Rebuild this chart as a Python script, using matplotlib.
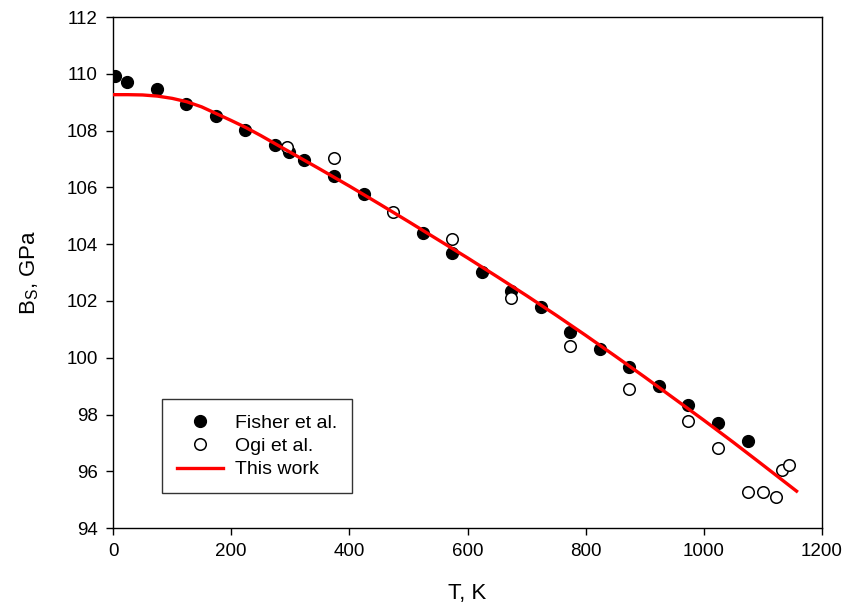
import numpy as np
import matplotlib
matplotlib.use('Agg')
import matplotlib.pyplot as plt

plt.rcParams['font.family'] = ['Liberation Sans', 'DejaVu Sans']
plt.rcParams['mathtext.default'] = 'regular'

# Fisher et al. (filled)
fisher_T = [4, 24, 74, 124, 174, 224, 274, 298, 324, 374, 424, 524, 574, 624,
            674, 724, 774, 824, 874, 924, 974, 1024, 1074]
fisher_B = [109.93, 109.70, 109.46, 108.93, 108.51, 108.02, 107.50, 107.25, 106.96,
            106.39, 105.77, 104.38, 103.68, 103.01, 102.34, 101.80, 100.92, 100.31,
            99.68, 99.01, 98.35, 97.69, 97.07]

# Ogi et al. (open)
ogi_T = [295, 374, 474, 574, 674, 774, 874, 974, 1024, 1074, 1100, 1122, 1132, 1145]
ogi_B = [107.43, 107.04, 105.12, 104.20, 102.11, 100.41, 98.89, 97.76, 96.81,
         95.28, 95.28, 95.10, 96.04, 96.22]

# this work (curve)
fit_T = [0, 25, 50, 75, 100, 125, 150, 175, 200, 225, 250, 300, 350, 400, 450, 500,
         550, 600, 650, 700, 750, 800, 850, 900, 950, 1000, 1050, 1100, 1157]
fit_B = [109.27, 109.27, 109.26, 109.22, 109.14, 109.02, 108.84, 108.60, 108.36,
         108.11, 107.83, 107.24, 106.65, 106.05, 105.43, 104.80, 104.16, 103.52,
         102.86, 102.19, 101.50, 100.79, 100.06, 99.32, 98.56, 97.80, 97.02, 96.22, 95.30]

fig = plt.figure(figsize=(8.48, 6.14), dpi=100)
ax = fig.add_axes([0.1333, 0.140, 0.836, 0.832])

ax.plot(fisher_T, fisher_B, 'o', color='black', markersize=8.5, label='Fisher et al.', zorder=2)
ax.plot(ogi_T, ogi_B, 'o', markerfacecolor='white', markeredgecolor='black',
        markeredgewidth=1.1, markersize=8.3, label='Ogi et al.', zorder=3)
ax.plot(fit_T, fit_B, '-', color='#ff0000', linewidth=2.4, label='This work', zorder=4)

ax.set_xlim(0, 1200)
ax.set_ylim(94, 112)
ax.set_xticks(np.arange(0, 1201, 200))
ax.set_yticks(np.arange(94, 113, 2))
ax.tick_params(direction='out', length=5, width=1, labelsize=13.5, pad=6,
               top=False, right=False)
for s in ax.spines.values():
    s.set_linewidth(1.0)

ax.set_xlabel('T, K', fontsize=16, labelpad=16)
ax.set_ylabel('B$_S$, GPa', fontsize=16, labelpad=18)

leg = ax.legend(loc='lower left', bbox_to_anchor=(0.069, 0.0685), borderaxespad=0,
                fontsize=14, handlelength=2.4, frameon=True, fancybox=False,
                borderpad=0.75, labelspacing=0.3, handletextpad=0.6)
leg.get_frame().set_edgecolor('black')
leg.get_frame().set_linewidth(1.0)

fig.savefig('out.png', dpi=100)
